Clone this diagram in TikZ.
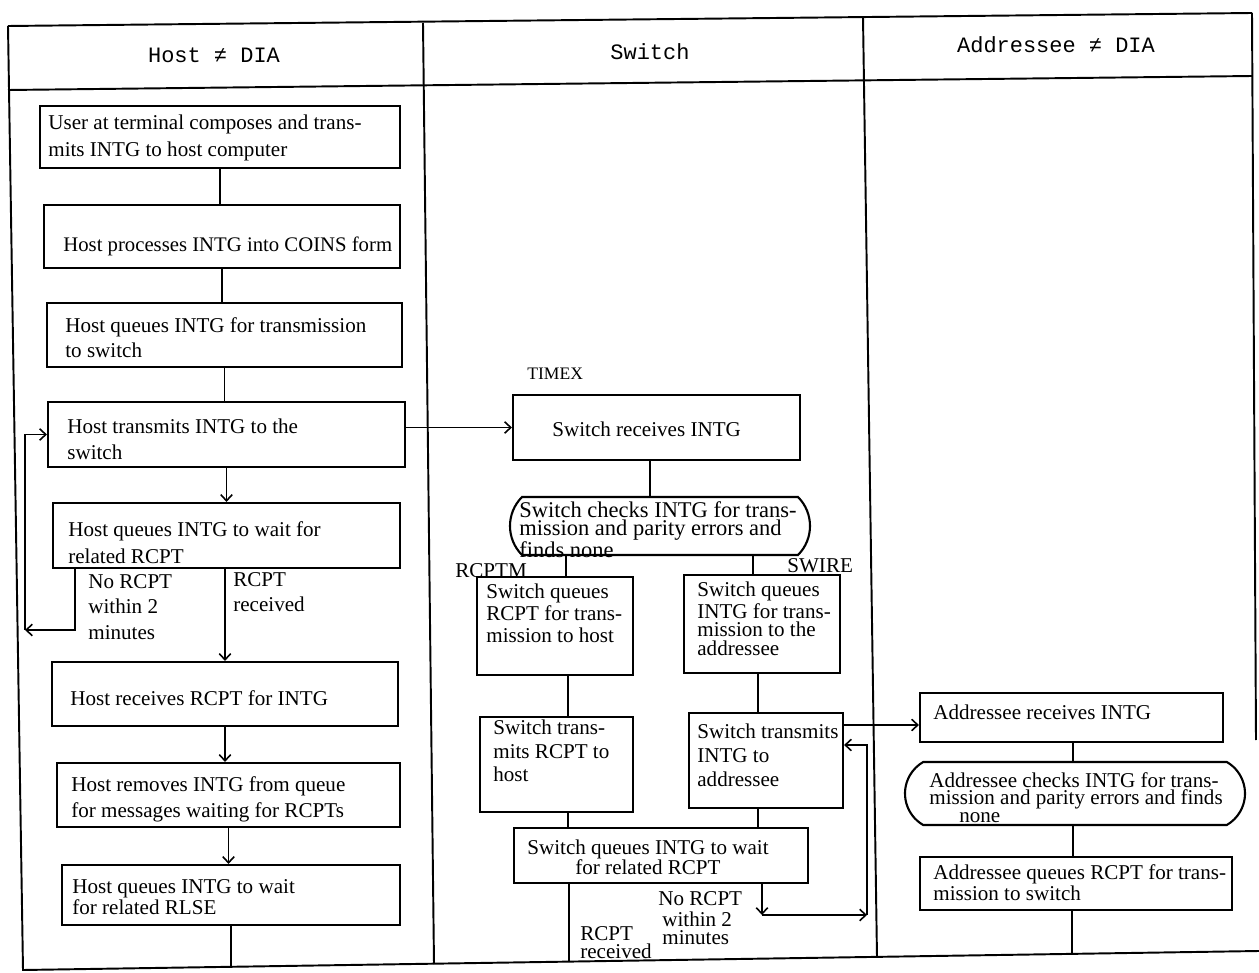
\documentclass[tikz,border=0pt]{standalone}
\usepackage{fontspec}
\setmainfont{Liberation Serif}
\newfontfamily\headfont{Liberation Mono}
\usetikzlibrary{arrows.meta,shapes.misc}

% one drawing unit = 0.02cm
\newcommand\pxu{0.02cm}
% process box: name, centre x, centre y, width, height
\newcommand\procbox[5]{\node[rect, minimum width=#4*\pxu, minimum height=#5*\pxu] (#1) at (#2,#3) {};}
% text set inside a box: name, x, y (top left), line spacing, text
\newcommand\boxtext[5]{\node[txt, font=\fontsize{12}{#4}\selectfont] (#1) at (#2,#3) {#5};}

\begin{document}
\begin{tikzpicture}[x=0.02cm, y=-0.02cm,
  frame/.style={line width=1.1pt},
  rect/.style={draw, line width=1.2pt, inner sep=0pt},
  term/.style={draw, line width=1.2pt, rounded rectangle, inner sep=0pt},
  txt/.style={inner sep=0pt, align=left, anchor=north west},
  link/.style={line width=0.9pt},
  flow/.style={line width=0.9pt, -{Straight Barb[length=3.5pt,width=6.5pt]}},
  head/.style={font=\headfont\fontsize{12.5}{14}\selectfont, inner sep=0pt}
]
\useasboundingbox (0,0) rectangle (1259,973);
\fill[white] (0,0) rectangle (1259,973);

% ---------- table frame ----------
\coordinate (TL) at (8,26);   \coordinate (TR) at (1252,13);
\coordinate (HL) at (8,90);   \coordinate (HR) at (1252,76);
\coordinate (BL) at (23,970); \coordinate (BR) at (1259,951);
\draw[frame] (TL) -- (TR);
\draw[frame] (HL) -- (HR);
\draw[frame] (TL) -- (BL) -- (BR);
\draw[frame] (TR) -- (1256,740);
\draw[frame] (423,23) -- (434,964);
\draw[frame] (863,17) -- (877,957);

% column headings
\node[head] (hdHost) at (214,55) {Host ≠ DIA};
\node[head] (hdSwitch) at (650,52) {Switch};
\node[head] (hdAddr) at (1056,45) {Addressee ≠ DIA};

% ---------- host column ----------
\procbox{h1}{220}{137}{360}{62}
\procbox{h2}{222}{236.5}{356}{63}
\procbox{h3}{224.5}{335}{355}{64}
\procbox{h4}{226.5}{434.5}{357}{65}
\procbox{h5}{226.5}{535.5}{347}{65}
\procbox{h6}{225}{694}{346}{64}
\procbox{h7}{228.5}{795}{343}{64}
\procbox{h8}{231}{895}{338}{60}

\boxtext{h1t}{48}{115}{15.3pt}{User at terminal composes and trans-\\mits INTG to host computer}
\node[txt, font=\fontsize{11.8}{14pt}\selectfont] (h2t) at (63,237) {Host processes INTG into COINS form};
\boxtext{h3t}{65}{317}{14.2pt}{Host queues INTG for transmission\\to switch}
\boxtext{h4t}{67}{419}{14.7pt}{Host transmits INTG to the\\switch}
\boxtext{h5t}{68}{521}{15.3pt}{Host queues INTG to wait for\\related RCPT}
\boxtext{h6t}{70}{690}{14pt}{Host receives RCPT for INTG}
\boxtext{h7t}{71}{776}{14.7pt}{Host removes INTG from queue\\for messages waiting for RCPTs}
\boxtext{h8t}{72}{879}{11pt}{Host queues INTG to wait\\for related RLSE}

\boxtext{lbNoH}{88}{574}{14.5pt}{No RCPT\\within 2\\minutes}
\boxtext{lbYesH}{233}{572}{14.5pt}{RCPT\\received}

\draw[link] (h1.south) -- (h1.south |- h2.north);
\draw[link] (h2.south) -- (h2.south |- h3.north);
\draw[link] (h3.south) -- (h3.south |- h4.north);
\draw[flow] (h4.south) -- (h4.south |- h5.north);
\draw[flow] (h6.north |- h5.south) -- (h6.north);
\draw[flow] (h6.south) -- (h6.south |- h7.north);
\draw[flow] (h7.south) -- (h7.south |- h8.north);
\coordinate (endH) at (0,967);
\draw[link] (h8.south) -- (h8.south |- endH);

% retransmission loop of the host
\coordinate (hl1) at (75,630);
\coordinate (hl2) at (25,630);
\draw[flow] (hl1 |- h5.south) -- (hl1) -- (hl2);
\draw[flow] (hl2) -- (hl2 |- h4.west) -- (h4.west);

% ---------- switch column ----------
\procbox{s1}{656.5}{427.5}{287}{65}
\node[term, rounded rectangle arc length=90, minimum width=300*\pxu, minimum height=58*\pxu] (s2) at (660,526) {};
\procbox{s3}{555}{626}{156}{98}
\procbox{s4}{762}{624}{156}{98}
\procbox{s5}{556.5}{764.5}{153}{95}
\procbox{s6}{766}{760.5}{154}{95}
\procbox{s7}{661}{855.5}{294}{55}

\node[txt, font=\fontsize{10}{12}\selectfont] (lbTimex) at (527,368) {TIMEX};
\boxtext{s1t}{552}{422}{14pt}{Switch receives INTG}
\node[txt, font=\fontsize{12.8}{10.4pt}\selectfont] (s2t) at (519,501) {Switch checks INTG for trans-\\mission and parity errors and\\finds none};
\boxtext{lbRcptm}{455}{563}{14pt}{RCPTM}
\boxtext{lbSwire}{787}{558}{14pt}{SWIRE}
\boxtext{s3t}{486}{584}{12.5pt}{Switch queues\\RCPT for trans-\\mission to host}
\boxtext{s4t}{697}{582}{10.7pt}{Switch queues\\INTG for trans-\\mission to the\\addressee}
\boxtext{s5t}{493}{720}{13.3pt}{Switch trans-\\mits RCPT to\\host}
\boxtext{s6t}{697}{724}{13.6pt}{Switch transmits\\INTG to\\addressee}
\node[txt, anchor=north, align=center, font=\fontsize{12}{11.3pt}\selectfont] (s7t) at (648,840) {Switch queues INTG to wait\\for related RCPT};

\boxtext{lbNoS}{658}{891}{10pt}{No RCPT\\[2.2pt]\hspace*{0.08cm}within 2\\\hspace*{0.08cm}minutes}
\boxtext{lbYesS}{580}{926}{10.5pt}{RCPT\\received}

\coordinate (c1) at (650,0);
\coordinate (c2) at (566,0);
\coordinate (c3) at (753,0);
\coordinate (c4) at (568,0);
\coordinate (c5) at (758,0);
\coordinate (endS) at (569,962);
\draw[link] (c1 |- s1.south) -- (c1 |- s2.north);
\draw[link] (c2 |- s2.south) -- (c2 |- s3.north);
\draw[link] (c3 |- s2.south) -- (c3 |- s4.north);
\draw[link] (c4 |- s3.south) -- (c4 |- s5.north);
\draw[link] (c5 |- s4.south) -- (c5 |- s6.north);
\draw[link] (c4 |- s5.south) -- (c4 |- s7.north);
\draw[link] (c5 |- s6.south) -- (c5 |- s7.north);
\draw[link] (endS |- s7.south) -- (endS);

% host to switch
\draw[flow] (s1.west -| h4.east) -- (s1.west);

% retransmission loop of the switch
\coordinate (sl1) at (762,915);
\coordinate (sl2) at (867,915);
\coordinate (sl3) at (867,745);
\draw[flow] (sl1 |- s7.south) -- (sl1);
\draw[flow] (sl1) -- (sl2);
\draw[flow] (sl2) -- (sl3) -- (sl3 -| s6.east);

% ---------- addressee column ----------
\procbox{a1}{1071.5}{717.5}{303}{49}
\node[term, rounded rectangle arc length=120, minimum width=340*\pxu, minimum height=63*\pxu] (a2) at (1075,793.5) {};
\procbox{a3}{1076}{883.5}{312}{53}

\boxtext{a1t}{933}{705}{14pt}{Addressee receives INTG}
\boxtext{a2t}{929}{772}{10pt}{Addressee checks INTG for trans-\\mission and parity errors and finds\\\hspace*{0.6cm}none}
\boxtext{a3t}{933}{864}{10.2pt}{Addressee queues RCPT for trans-\\mission to switch}

\coordinate (ay) at (0,725);
\coordinate (c6) at (1073,0);
\coordinate (endA) at (1072,954);
\draw[flow] (s6.east |- ay) -- (a1.west |- ay);
\draw[link] (c6 |- a1.south) -- (c6 |- a2.north);
\draw[link] (c6 |- a2.south) -- (c6 |- a3.north);
\draw[link] (endA |- a3.south) -- (endA);
\end{tikzpicture}
\end{document}
